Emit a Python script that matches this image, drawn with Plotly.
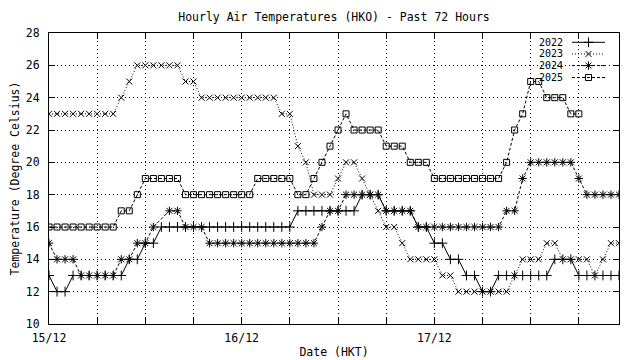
import pandas as pd
import plotly.graph_objects as go

# Hourly timestamps (x categories)
hours = pd.date_range("2025-12-15 00:00", "2025-12-17 23:00", freq="h")

t2022 = [13, 12, 12, 13, 13, 13, 13, 13, 13, 13, 14, 14, 15, 15,
         16, 16, 16, 16, 16, 16, 16, 16, 16, 16, 16, 16, 16, 16, 16, 16, 16,
         17, 17, 17, 17, 17, 17, 17, 17, 18, 18, 18, 17, 17, 17, 17,
         16, 16, 15, 15, 14, 14, 13, 13, 12, 12,
         13, 13, 13, 13, 13, 13, 13, 14, 14, 14, 13, 13, 13, 13, 13, 13]
t2023 = [23, 23, 23, 23, 23, 23, 23, 23, 23, 24, 25, 26, 26, 26, 26, 26, 26,
         25, 25, 24, 24, 24, 24, 24, 24, 24, 24, 24, 24, 23, 23, 21, 20,
         18, 18, 18, 19, 20, 20, 19, 18, 17, 16, 16, 15, 14, 14, 14, 14,
         13, 13, 12, 12, 12, 12, 12, 12, 12, 13, 14, 14, 14, 15, 15,
         14, 14, 14, 14, 13, 14, 15, 15]
t2024 = [15, 14, 14, 14, 13, 13, 13, 13, 13, 14, 14, 15, 15, 16, None, 17, 17,
         16, 16, 16, 15, 15, 15, 15, 15, 15, 15, 15, 15, 15, 15, 15, 15, 15,
         16, 17, 17, 18, 18, 18, 18, 18, 17, 17, 17, 17,
         16, 16, 16, 16, 16, 16, 16, 16, 16, 16, 16, 17, 17, 19,
         20, 20, 20, 20, 20, 20, 19, 18, 18, 18, 18, 18]
t2025 = [16, 16, 16, 16, 16, 16, 16, 16, 16, 17, 17, 18, 19, 19, 19, 19, 19,
         18, 18, 18, 18, 18, 18, 18, 18, 18, 19, 19, 19, 19, 19, 18, 18,
         19, 20, 21, 22, 23, 22, 22, 22, 22, 21, 21, 21, 20, 20, 20,
         19, 19, 19, 19, 19, 19, 19, 19, 19, 20, 22, 23, 25, 25, 24, 24, 24,
         23, 23, None, None, None, None, None]

series_names = ["2022", "2023", "2024", "2025"]
series_vals = [t2022, t2023, t2024, t2025]

tick_hours = list(range(0, 72, 6))
tick_labels = ["15/12", "", "", "", "16/12", "", "", "", "17/12", "", "", ""]
y_ticks = [10, 12, 14, 16, 18, 20, 22, 24, 26, 28]

styles = [
    dict(dash="solid", symbol="cross-thin-open", size=7),
    dict(dash="1px,2px", symbol="x-thin-open", size=6),
    dict(dash="3px,2px", symbol="asterisk-open", size=7),
    dict(dash="3px,2px", symbol="square-open", size=6),
]

FONT = "DejaVu Sans Mono"
FS = 11.5
KEY_FS = 10
fig = go.Figure()
for name, vals, st in zip(series_names, series_vals, styles):
    fig.add_trace(go.Scatter(
        x=hours, y=vals, name=name, mode="lines+markers", connectgaps=True,
        line=dict(color="black", width=1, dash=st["dash"]),
        marker=dict(symbol=st["symbol"], size=st["size"], color="black",
                    line=dict(color="black", width=1)),
        showlegend=False, hoverinfo="skip"))

# gnuplot-style key (text then sample), drawn on an overlay unit axis
key_y = [0.968, 0.928, 0.888, 0.847]
for name, st, ky in zip(series_names, styles, key_y):
    fig.add_trace(go.Scatter(
        x=[0.9175, 0.9465, 0.9754], y=[ky, ky, ky], xaxis="x2", yaxis="y2",
        mode="lines", line=dict(color="black", width=1, dash=st["dash"]),
        showlegend=False, hoverinfo="skip"))
    fig.add_trace(go.Scatter(
        x=[0.9465], y=[ky], xaxis="x2", yaxis="y2", mode="markers",
        marker=dict(symbol=st["symbol"], size=st["size"], color="black",
                    line=dict(color="black", width=1)),
        showlegend=False, hoverinfo="skip"))
    fig.add_annotation(x=0.9035, y=ky, xref="paper", yref="paper",
                       text=name, showarrow=False, xanchor="right",
                       yanchor="middle", borderpad=0,
                       font=dict(family=FONT, size=KEY_FS, color="black"))

axis_common = dict(showline=True, mirror="allticks", linecolor="black", linewidth=1,
                   ticks="inside", ticklen=6, tickcolor="black", tickwidth=1,
                   showgrid=True, gridcolor="black", gridwidth=1, griddash="1px,3px",
                   zeroline=False, automargin=False,
                   tickfont=dict(family=FONT, size=FS, color="black"))

# page body has an 8px margin, so the figure is 632x352 and offset by 8px
fig.update_layout(
    width=632, height=352,
    margin=dict(l=41, r=21, t=25, b=36),
    paper_bgcolor="white", plot_bgcolor="white",
    font=dict(family=FONT, size=FS, color="black"),
    title=dict(text="Hourly Air Temperatures (HKO) - Past 72 Hours",
               x=0.5, xref="paper", xanchor="center", y=0.974, yanchor="middle",
               font=dict(family=FONT, size=FS, color="black")),
    xaxis=dict(range=[hours[0], hours[-1]],
               tickvals=[hours[h] for h in tick_hours], ticktext=tick_labels,
               title=dict(text="Date (HKT)", standoff=4,
                          font=dict(family=FONT, size=FS, color="black")),
               ticklabelstandoff=3,
               **axis_common),
    yaxis=dict(range=[10, 28], tickvals=y_ticks,
               title=dict(text="Temperature (Degree Celsius)", standoff=12,
                          font=dict(family=FONT, size=FS, color="black")),
               ticklabelstandoff=6,
               **axis_common),
    xaxis2=dict(overlaying="x", range=[0, 1], visible=False),
    yaxis2=dict(overlaying="y", range=[0, 1], visible=False),
)

fig.write_html("out.html")
